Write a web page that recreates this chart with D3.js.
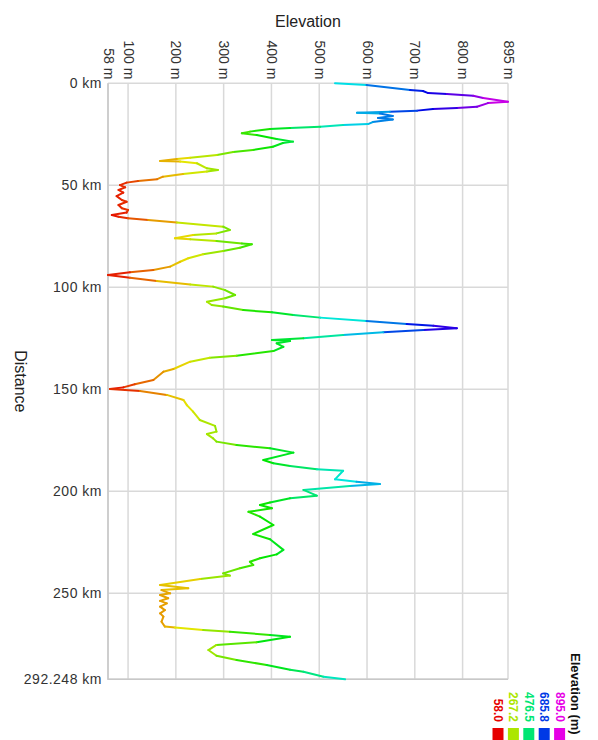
<!DOCTYPE html>
<html>
<head>
<meta charset="utf-8">
<script src="https://cdn.jsdelivr.net/npm/d3@7"></script>
<style>
  html, body { margin: 0; padding: 0; background: #fff; }
  svg { display: block; font-family: "Liberation Sans", Arial, sans-serif; }
</style>
</head>
<body>
<svg id="chart" width="598" height="740"></svg>
<script>
// profile: distance along the route (km) and elevation (m)
const distanceKm = [
  0, 0.8, 3.3, 3.8, 4.8, 5.2, 6.1, 7.2, 9.0, 9.7, 11.5, 12.1, 12.6, 13.4, 13.9, 14.4,
  14.8, 16.0, 17.0, 17.7, 19.0, 20.0, 20.4, 21.3, 21.9, 22.4, 23.7, 24.5, 25.4, 27.3,
  28.6, 29.3, 31.1, 32.7, 33.7, 35.2, 36.5, 37.1, 38.1, 38.4, 39.2, 41.7, 42.5, 43.3,
  44.5, 45.8, 47.0, 47.9, 48.7, 49.9, 51.0, 52.3, 53.6, 55.3, 57.2, 58.1, 59.7, 61.3,
  62.1, 63.4, 64.6, 65.4, 66.2, 67.0, 68.2, 70.3, 71.9, 73.6, 74.4, 76.0, 76.5, 77.3,
  78.5, 78.9, 80.6, 82.2, 83.8, 85.8, 87.5, 89.9, 91.5, 92.7, 94.0, 95.3, 96.9, 98.6,
  99.7, 101.4, 103.8, 105.4, 107.1, 108.7, 109.5, 111.2, 112.3, 113.6, 114.9, 116.6,
  118.0, 118.9, 120.1, 121.0, 122.1, 123.4, 125.0, 125.9, 126.4, 127.5, 129.2, 131.3,
  133.6, 134.6, 136.5, 140.1, 141.4, 145.5, 147.6, 149.1, 149.9, 150.9, 152.8, 155.3,
  157.8, 161.0, 165.1, 168.0, 170.8, 172.0, 174.1, 175.7, 177.4, 179.0, 181.1, 184.7,
  186.3, 187.7, 189.3, 190.0, 194.2, 195.4, 196.5, 197.5, 199.4, 202.2, 203.5, 205.6,
  206.8, 208.4, 210.1, 212.5, 216.6, 221.0, 223.6, 228.8, 231.0, 232.9, 234.6, 236.2,
  237.8, 240.3, 241.4, 243.1, 246.0, 247.6, 248.5, 250.1, 250.9, 252.5, 253.8, 255.0,
  256.6, 258.3, 259.9, 261.5, 264.0, 266.4, 266.9, 268.1, 268.9, 270.5, 271.4, 274.1,
  275.4, 277.9, 280.7, 282.8, 285.2, 287.6, 288.5, 291.0, 292.248
];
const elevationM = [
  533, 599, 690, 717, 728, 767, 822, 843, 895, 853, 830, 788, 738, 705, 648, 579,
  627, 654, 623, 654, 612, 602, 550, 502, 439, 397, 355, 338, 369, 411,
  445, 424, 403, 361, 320, 286, 230, 202, 167, 209, 244, 265, 288, 265,
  215, 173, 161, 121, 97, 83, 94, 80, 90, 76, 87, 97, 80, 87,
  100, 97, 66, 80, 100, 142, 202, 299, 313, 285, 236, 198, 230, 285,
  338, 359, 334, 299, 257, 226, 209, 188, 153, 104, 58, 104, 160, 230,
  278, 303, 324, 303, 265, 275, 299, 341, 401, 446, 502, 599,
  683, 739, 788, 718, 634, 550, 467, 401, 439, 411, 425, 404,
  327, 271, 230, 195, 174, 153, 114, 90, 62, 125, 181, 216,
  223, 236, 250, 282, 285, 265, 278, 285, 327, 397, 446, 383,
  404, 439, 495, 550, 533, 578, 627, 564, 467, 495, 439, 397,
  376, 401, 352, 376, 404, 362, 397, 425, 411, 376, 355, 362,
  334, 299, 313, 251, 167, 226, 170, 188, 167, 184, 167, 181,
  167, 177, 167, 174, 170, 177, 198, 257, 313, 397, 439, 369,
  285, 268, 285, 327, 390, 439, 467, 509, 554
];

const elevationTicks = [58, 100, 200, 300, 400, 500, 600, 700, 800, 895];
const distanceTicks = [0, 50, 100, 150, 200, 250, 292.248];
const legendValues = [58.0, 267.2, 476.5, 685.8, 895.0];

const svg = d3.select("#chart");
const plot = { left: 108, right: 508, top: 83.3, bottom: 679.3 };

const x = d3.scaleLinear().domain([58, 895]).range([plot.left, plot.right]);
const y = d3.scaleLinear().domain([0, 292.248]).range([plot.top, plot.bottom]);

// red -> magenta hue ramp over the elevation range
const hue = d3.scaleLinear().domain([58, 895]).range([0, 300]);
const colour = e => d3.hsl(hue(e), 1, 0.45).formatHex();

// grid
svg.append("g")
  .selectAll("line")
  .data(elevationTicks)
  .join("line")
  .attr("x1", d => x(d)).attr("x2", d => x(d))
  .attr("y1", plot.top).attr("y2", plot.bottom)
  .attr("stroke", "#d9d9d9")
  .attr("stroke-width", 1.5);

svg.append("g")
  .selectAll("line")
  .data(distanceTicks)
  .join("line")
  .attr("x1", plot.left).attr("x2", plot.right)
  .attr("y1", d => y(d)).attr("y2", d => y(d))
  .attr("stroke", "#d9d9d9")
  .attr("stroke-width", 1.5);

// left and bottom frame slightly darker
svg.append("path")
  .attr("d", `M${plot.left},${plot.top}V${plot.bottom}H${plot.right}`)
  .attr("fill", "none")
  .attr("stroke", "#c8c8c8")
  .attr("stroke-width", 1.5);

// distance axis (left)
svg.append("g")
  .attr("transform", `translate(${plot.left},0)`)
  .call(d3.axisLeft(y).tickValues(distanceTicks).tickSize(0).tickPadding(6)
    .tickFormat(d => `${d} km`))
  .call(g => g.select(".domain").remove())
  .selectAll("text")
  .attr("font-size", 14)
  .attr("letter-spacing", 0.5)
  .attr("fill", "#333");

// elevation axis (top), labels turned to read downwards
const topAxis = svg.append("g")
  .attr("transform", `translate(0,${plot.top})`)
  .call(d3.axisTop(x).tickValues(elevationTicks).tickSize(0).tickFormat(d => `${d} m`))
  .call(g => g.select(".domain").remove());

topAxis.selectAll(".tick text")
  .attr("transform", "translate(0,-4) rotate(90)")
  .attr("x", 0).attr("y", 0)
  .attr("dy", "0.35em")
  .attr("text-anchor", "end")
  .attr("font-size", 14)
  .attr("fill", "#333");

// titles
svg.append("text")
  .attr("x", 308).attr("y", 27)
  .attr("text-anchor", "middle")
  .attr("font-size", 16)
  .attr("fill", "#222")
  .text("Elevation");

svg.append("text")
  .attr("transform", `translate(15,${(plot.top + plot.bottom) / 2}) rotate(90)`)
  .attr("text-anchor", "middle")
  .attr("font-size", 16)
  .attr("fill", "#222")
  .text("Distance");

// profile, one segment per step so each carries its own colour
const pts = distanceKm.map((d, i) => ({ d, e: elevationM[i] }));
const segs = d3.pairs(pts);

svg.append("g")
  .selectAll("line")
  .data(segs)
  .join("line")
  .attr("x1", s => x(s[0].e)).attr("y1", s => y(s[0].d))
  .attr("x2", s => x(s[1].e)).attr("y2", s => y(s[1].d))
  .attr("stroke", s => colour((s[0].e + s[1].e) / 2))
  .attr("stroke-width", 2)
  .attr("stroke-linecap", "round");

// legend, rotated like the rest of the chart
const legend = svg.append("g");
const step = 15.4;

legend.append("text")
  .attr("transform", "translate(571,653) rotate(90)")
  .attr("font-size", 13)
  .attr("font-weight", "bold")
  .attr("fill", "#111")
  .text("Elevation (m)");

legendValues.forEach((v, i) => {
  const lx = 492.5 + i * step;
  legend.append("rect")
    .attr("x", lx).attr("y", 728)
    .attr("width", 11).attr("height", 12)
    .attr("fill", colour(v));
  legend.append("text")
    .attr("transform", `translate(${lx + 1.5},722) rotate(90)`)
    .attr("text-anchor", "end")
    .attr("font-size", 12)
    .attr("font-weight", "bold")
    .attr("fill", colour(v))
    .text(v.toFixed(1));
});
</script>
</body>
</html>
